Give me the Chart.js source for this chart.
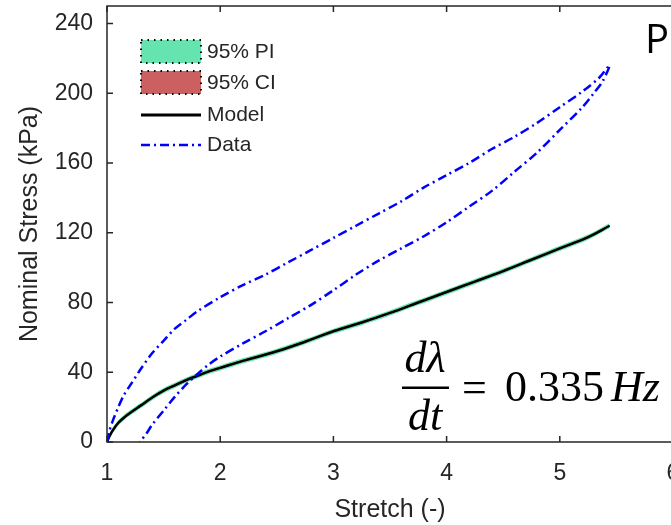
<!DOCTYPE html>
<html>
<head>
<meta charset="utf-8">
<script src="https://cdn.jsdelivr.net/npm/chart.js@4/dist/chart.umd.min.js"></script>
<style>
  html, body { margin: 0; padding: 0; background: #fff; overflow: hidden; }
  #wrap { width: 720px; height: 525px; }
</style>
</head>
<body>
<div id="wrap"><canvas id="chart" width="720" height="525"></canvas></div>
<script>
// Model fit (black) with its prediction / confidence bands
const modelStretch = [1.0, 1.02, 1.04, 1.07, 1.1, 1.15, 1.2, 1.3, 1.4, 1.5, 1.6, 1.7, 1.8, 1.9, 2.0, 2.2, 2.5, 2.75, 3.0, 3.25, 3.5, 3.75, 4.0, 4.25, 4.5, 4.75, 5.0, 5.25, 5.44];
const modelStress  = [0, 3, 5.5, 8.5, 11, 14, 16.5, 21, 25.5, 29.5, 32.5, 35.5, 38, 40.5, 42.5, 46.5, 52, 57.5, 63.5, 68.5, 74, 80, 86, 92, 98, 104.5, 111, 117.5, 124];
const piUpper      = [0.8, 4.3, 7, 10, 12.5, 15.5, 18, 22.5, 27, 31, 34, 37, 39.5, 42, 44, 48, 53.5, 59, 65, 70, 75.5, 81.5, 87.5, 93.5, 99.5, 106, 112.5, 119, 125.5];
const piLower      = [0, 1.7, 4, 7, 9.5, 12.5, 15, 19.5, 24, 28, 31, 34, 36.5, 39, 41, 45, 50.5, 56, 62, 67, 72.5, 78.5, 84.5, 90.5, 96.5, 103, 109.5, 116, 122.5];
const ciUpper      = [0.4, 3.6, 6.1, 9.1, 11.6, 14.6, 17.1, 21.6, 26.1, 30.1, 33.1, 36.1, 38.6, 41.1, 43.1, 47.1, 52.6, 58.1, 64.1, 69.1, 74.6, 80.6, 86.6, 92.6, 98.6, 105.1, 111.6, 118.1, 124.6];
const ciLower      = [0, 2.4, 4.9, 7.9, 10.4, 13.4, 15.9, 20.4, 24.9, 28.9, 31.9, 34.9, 37.4, 39.9, 41.9, 45.9, 51.4, 56.9, 62.9, 67.9, 73.4, 79.4, 85.4, 91.4, 97.4, 103.9, 110.4, 116.9, 123.4];

// Measured data loop: loading branch then unloading branch
const loadStretch = [1.0, 1.02, 1.05, 1.1, 1.15, 1.2, 1.3, 1.4, 1.5, 1.6, 1.7, 1.8, 2.0, 2.2, 2.4, 2.6, 2.8, 3.0, 3.2, 3.4, 3.6, 3.8, 4.0, 4.2, 4.4, 4.6, 4.8, 5.0, 5.2, 5.35, 5.44];
const loadStress  = [0, 6, 12, 20, 27, 32, 42, 51, 58, 65, 70, 75, 83, 90, 96, 103, 110, 117, 124, 131, 138, 146, 153, 160, 168, 175, 183, 192, 201, 209, 216];
const unloadStretch = [5.38, 5.3, 5.2, 5.0, 4.8, 4.6, 4.4, 4.2, 4.0, 3.8, 3.6, 3.4, 3.2, 3.0, 2.8, 2.6, 2.4, 2.2, 2.0, 1.9, 1.8, 1.7, 1.6, 1.5, 1.4, 1.35, 1.29];
const unloadStress  = [207, 200, 192, 179, 166, 155, 144, 135, 126, 118, 111, 104, 96, 87, 78.5, 71, 63.5, 56.5, 49, 44.5, 39, 33, 26, 18, 10, 5, 0];

const xMin = 1, xMax = 6, yMax = 250, yStep = 40;

const pts = (xs, ys) => xs.map((v, i) => ({ x: v, y: ys[i] }));

const ink = '#262626';
const piColor = 'rgb(102,228,176)';
const ciColor = 'rgb(204,96,96)';
const dataDash = [9, 4, 2, 4];

const decorations = {
  id: 'decorations',
  afterDraw(chart) {
    const { ctx, chartArea: a, scales: { x, y } } = chart;
    ctx.save();

    // axes box (MATLAB style, ticks pointing in)
    ctx.strokeStyle = ink;
    ctx.lineWidth = 1.5;
    ctx.beginPath();
    ctx.moveTo(a.right, a.top);
    ctx.lineTo(a.left, a.top);
    ctx.lineTo(a.left, a.bottom);
    ctx.lineTo(a.right, a.bottom);
    ctx.stroke();
    ctx.beginPath();
    x.ticks.forEach(t => {
      const px = x.getPixelForValue(t.value);
      ctx.moveTo(px, a.bottom); ctx.lineTo(px, a.bottom - 6);
      ctx.moveTo(px, a.top); ctx.lineTo(px, a.top + 6);
    });
    y.ticks.forEach(t => {
      const py = y.getPixelForValue(t.value);
      ctx.moveTo(a.left, py); ctx.lineTo(a.left + 6, py);
    });
    ctx.stroke();

    // legend
    const lx = 141, lw = 60, tx = 207;
    const patch = (top, color) => {
      ctx.fillStyle = color;
      ctx.fillRect(lx, top, lw, 23);
      ctx.strokeStyle = '#000';
      ctx.lineWidth = 2;
      ctx.setLineDash([1.5, 5]);
      ctx.strokeRect(lx, top, lw, 23);
      ctx.setLineDash([]);
    };
    patch(40, piColor);
    patch(71, ciColor);
    ctx.strokeStyle = '#000';
    ctx.lineWidth = 3;
    ctx.beginPath(); ctx.moveTo(lx, 115); ctx.lineTo(lx + lw, 115); ctx.stroke();
    ctx.strokeStyle = '#0000ff';
    ctx.lineWidth = 2.5;
    ctx.setLineDash(dataDash);
    ctx.beginPath(); ctx.moveTo(lx, 145); ctx.lineTo(lx + lw, 145); ctx.stroke();
    ctx.setLineDash([]);

    ctx.fillStyle = ink;
    ctx.font = '21px "Liberation Sans", Arial, sans-serif';
    ctx.textBaseline = 'middle';
    ctx.textAlign = 'left';
    ctx.fillText('95% PI', tx, 52);
    ctx.fillText('95% CI', tx, 83);
    ctx.fillText('Model', tx, 115);
    ctx.fillText('Data', tx, 145);

    // cropped panel letter
    ctx.fillStyle = '#000';
    ctx.textBaseline = 'alphabetic';
    ctx.font = '40px "Open Sans", sans-serif';
    ctx.fillText('P', 645, 53);

    // rate annotation
    const serif = '"Liberation Serif", "DejaVu Serif", serif';
    ctx.textAlign = 'center';
    ctx.font = 'italic 44px ' + serif;
    ctx.fillText('dλ', 425, 372);
    ctx.fillText('dt', 425, 430);
    ctx.fillRect(402, 386.5, 47, 2.5);
    ctx.textAlign = 'left';
    ctx.font = '44px ' + serif;
    ctx.fillText('=', 462, 402);
    ctx.fillText('0.335', 505, 401);
    ctx.font = 'italic 44px ' + serif;
    ctx.fillText('Hz', 611, 401);

    ctx.restore();
  }
};

new Chart(document.getElementById('chart'), {
  type: 'line',
  data: {
    datasets: [
      { data: pts(modelStretch, piUpper), order: 5, borderWidth: 0, pointRadius: 0, tension: 0.4, fill: false },
      { data: pts(modelStretch, piLower), order: 4, borderWidth: 0, pointRadius: 0, tension: 0.4, fill: '-1', backgroundColor: piColor },
      { data: pts(modelStretch, ciUpper), order: 3, borderWidth: 0, pointRadius: 0, tension: 0.4, fill: false },
      { data: pts(modelStretch, ciLower), order: 2, borderWidth: 0, pointRadius: 0, tension: 0.4, fill: '-1', backgroundColor: ciColor },
      {
        label: 'Model',
        data: pts(modelStretch, modelStress),
        order: 1,
        borderColor: '#000',
        borderWidth: 2.5,
        pointRadius: 0,
        tension: 0.4,
        fill: false
      },
      {
        label: 'Data',
        data: pts(loadStretch, loadStress).concat(pts(unloadStretch, unloadStress)),
        order: 0,
        borderColor: '#0000ff',
        borderWidth: 2.5,
        borderDash: dataDash,
        pointRadius: 0,
        tension: 0.3,
        fill: false
      }
    ]
  },
  options: {
    responsive: false,
    animation: false,
    layout: { padding: { top: 6, right: 47, left: 0, bottom: 0 } },
    plugins: {
      legend: { display: false },
      tooltip: { enabled: false }
    },
    scales: {
      x: {
        type: 'linear',
        min: xMin,
        max: xMax,
        grid: { display: false, drawTicks: false },
        border: { display: false },
        ticks: {
          stepSize: 1,
          padding: 18,
          color: ink,
          maxRotation: 0,
          font: { family: '"Liberation Sans", Arial, sans-serif', size: 23 }
        },
        title: {
          display: true,
          text: 'Stretch (-)',
          color: ink,
          padding: { top: 0, bottom: 0 },
          font: { family: '"Liberation Sans", Arial, sans-serif', size: 25 }
        },
        afterFit: (scale) => {
          scale.height = 83;
          scale.paddingLeft = 0;
          scale.paddingRight = 0;
        }
      },
      y: {
        min: 0,
        max: yMax,
        grid: { display: false, drawTicks: false },
        border: { display: false },
        ticks: {
          stepSize: yStep,
          includeBounds: false,
          padding: 14,
          color: ink,
          font: { family: '"Liberation Sans", Arial, sans-serif', size: 23 }
        },
        title: {
          display: true,
          text: 'Nominal Stress (kPa)',
          color: ink,
          padding: { top: 15, bottom: 0 },
          font: { family: '"Liberation Sans", Arial, sans-serif', size: 25 }
        },
        afterFit: (scale) => {
          scale.width = 107;
          scale.paddingTop = 0;
          scale.paddingBottom = 0;
        }
      }
    }
  },
  plugins: [decorations]
});
</script>
</body>
</html>
